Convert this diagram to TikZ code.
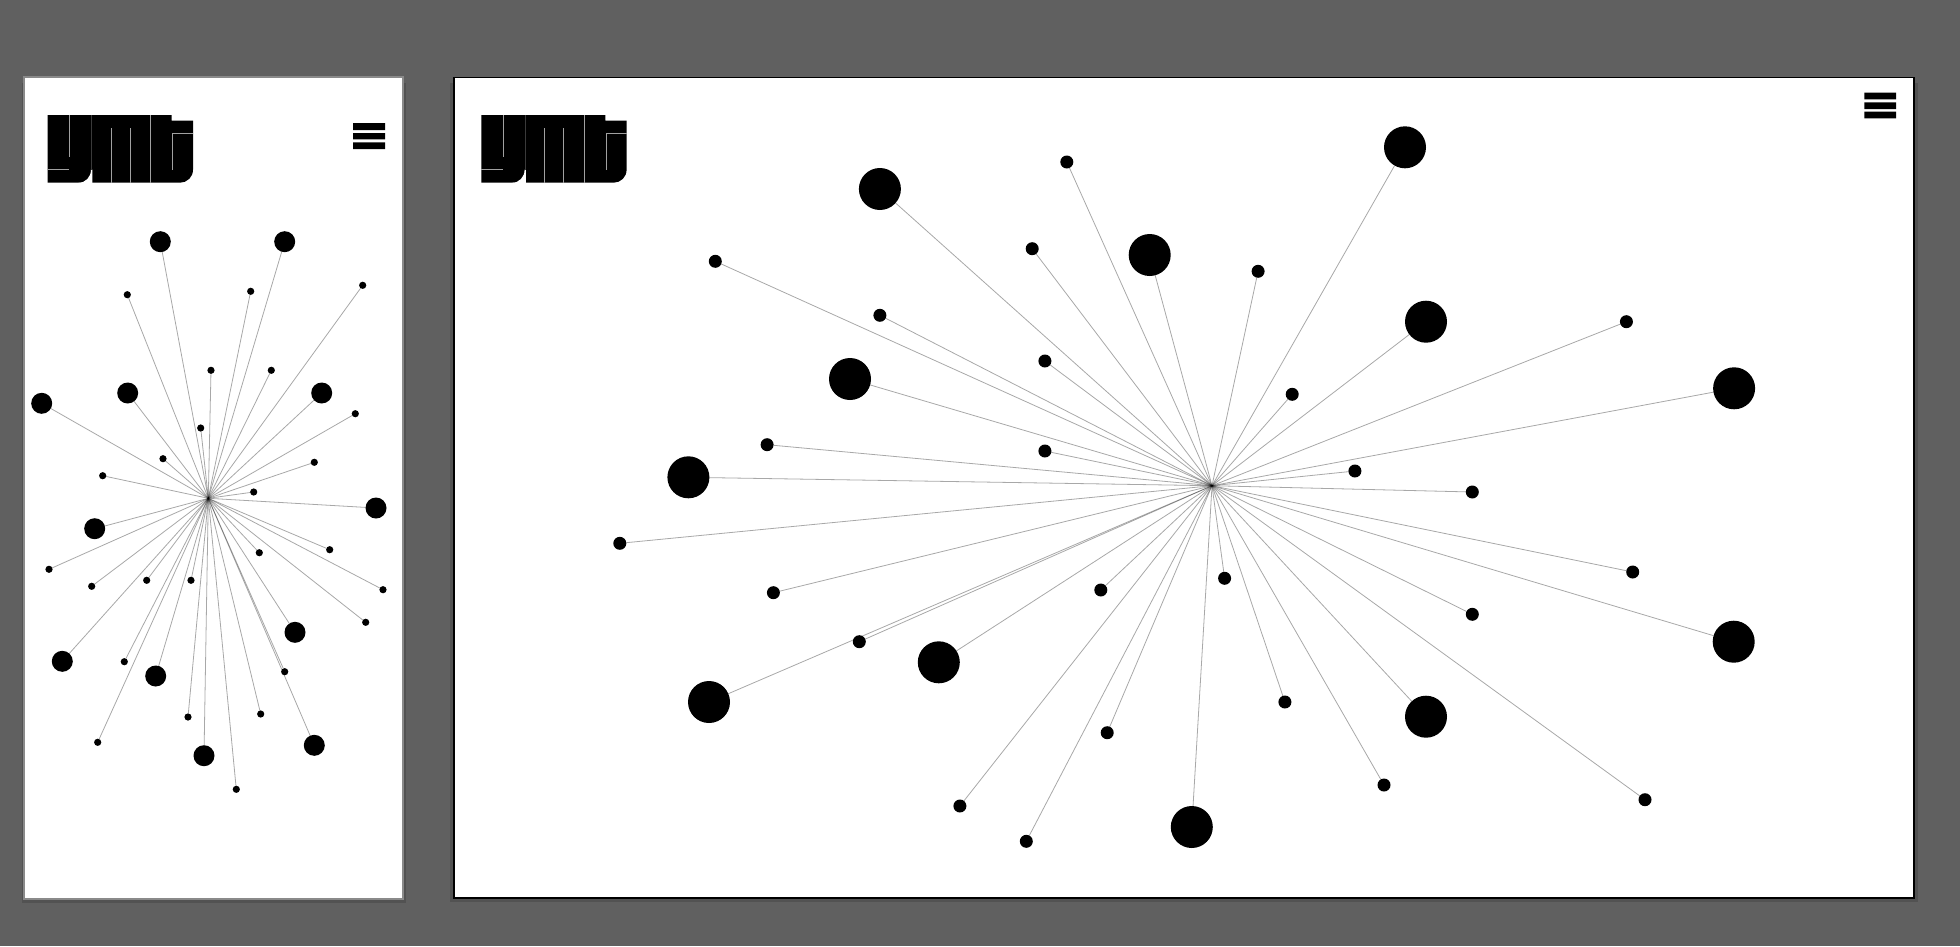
\documentclass[tikz,border=0pt]{standalone}
\definecolor{bgcol}{HTML}{606060}
\definecolor{shadowcol}{HTML}{525252}
\definecolor{edgegrey}{HTML}{8A8A8A}
\definecolor{slitcol}{HTML}{A0A0A0}
\tikzset{
  bigL/.style={circle,fill=black,inner sep=0pt,outer sep=0pt,minimum size=21pt},
  smallL/.style={circle,fill=black,inner sep=0pt,outer sep=0pt,minimum size=7.2pt},
  bigR/.style={circle,fill=black,inner sep=0pt,outer sep=0pt,minimum size=42pt},
  smallR/.style={circle,fill=black,inner sep=0pt,outer sep=0pt,minimum size=13pt},
  spoke/.style={draw=black,draw opacity=0.34,line width=0.8pt},
  ymtlogo/.pic={
    \fill[black] (0,0) -- (124,0) -- (124,5.7) -- (145.3,5.7) -- (145.3,54.7)
      .. controls (145.3,62) and (139.5,67.7) .. (132.3,67.7) -- (0,67.7) -- cycle;
    \fill[white] (30.6,67.9) .. controls (38,67.7) and (43.3,62) .. (43.3,54.7)
      -- (44.6,54.7) -- (44.6,67.9) -- cycle;
    \draw[slitcol,line width=0.8pt]
      (21.6,0) -- (21.6,42.3)
      (0,54) -- (21.6,54)
      (63.3,13) -- (63.3,67.7)
      (82.3,13) -- (82.3,67.7)
      (102.6,0) -- (102.6,67.7)
      (124.6,18) -- (124.6,54.7)
      (124.6,18) -- (145.3,18);
    \draw[bgcol!60!black,line width=0.3pt] (43.9,0) -- (43.9,54.7);
  }
}
\begin{document}
\begin{tikzpicture}[x=1pt,y=-1pt]
\useasboundingbox (0,0) rectangle (1960,946);
\fill[bgcol] (0,0) rectangle (1960,946);
% mobile panel
\fill[shadowcol] (21.5,83) rectangle (406,903);
\fill[edgegrey] (23.3,76) rectangle (404,900);
\fill[white] (25,77.7) rectangle (402.3,898.3);
% desktop panel
\fill[shadowcol] (450,83) rectangle (1918,902);
\fill[black] (453.3,76.7) rectangle (1914.5,898.5);
\fill[white] (455,78.4) rectangle (1913,897);
% logos
\pic at (47.7,115) {ymtlogo};
\pic at (481.3,115) {ymtlogo};
% menu icons
\fill[black] (353,123) rectangle (385,130) (353,133) rectangle (385,139.3) (353,142.3) rectangle (385,149);
\fill[black] (1864.3,92.7) rectangle (1896,99.3) (1864.3,102.3) rectangle (1896,109) (1864.3,111.7) rectangle (1896,118.3);
% mobile graph
\coordinate (hubL) at (208.3,498.3);
\foreach \n/\x/\y in {
 a1/160.3/241.7,a2/284.7/241.7,a3/41.7/403.3,a4/127.7/393,a5/321.7/393,a6/376/508,
 a7/94.7/528.7,a8/62.3/661.3,a9/155.7/676,a10/204/755.7,a11/314.3/745.3,a12/295/632.3}
 {\node[bigL] (\n) at (\x,\y) {}; \draw[spoke] (hubL) -- (\n);}
\foreach \n/\x/\y in {
 b1/127.3/294.7,b2/250.7/291.3,b3/362.7/285.3,b4/211/370.3,b5/271.3/370.3,b6/355.3/413.7,
 b7/200.7/428,b8/163/458.7,b9/314.3/462.3,b10/102.7/475.7,b11/253.7/492,b12/329.7/549.7,
 b13/259.3/552.7,b14/49/569.3,b15/91.7/586.3,b16/146.7/580.3,b17/191/580.3,b18/383/589.7,
 b19/365.7/622.3,b20/124.3/661.7,b21/284.7/671.7,b22/188/717,b23/260.7/714,b24/97.7/742.3,
 b25/236.3/789.3}
 {\node[smallL] (\n) at (\x,\y) {}; \draw[spoke] (hubL) -- (\n);}
% desktop graph
\coordinate (hubR) at (1212,485.7);
\foreach \n/\x/\y in {
 c1/879.9/189,c2/1149.7/255,c3/850/379,c4/688.4/477.3,c5/1405/147.3,c6/1426/321.7,
 c7/1734.1/388.3,c8/709/702,c9/938.8/662.3,c10/1191.8/827,c11/1733.7/641.7,c12/1426/716.7}
 {\node[bigR] (\n) at (\x,\y) {}; \draw[spoke] (hubR) -- (\n);}
\foreach \n/\x/\y in {
 d1/1066.8/162,d2/1032.2/248.7,d3/715.3/261.3,d4/879.9/315.3,d5/1044.9/361,d6/767.1/444.7,
 d7/1044.9/451,d8/1258.1/271.3,d9/1292.2/394.3,d10/1626.4/321.7,d11/1354.9/471,d12/1472.3/492,
 d13/619.8/543.3,d14/773.4/592.7,d15/859.3/641.7,d16/1100.8/590,d17/1224.6/578.3,d18/1107.2/732.7,
 d19/959.9/806,d20/1026.3/841.3,d21/1632.7/572,d22/1472.3/614.3,d23/1284.9/702,d24/1384/785,
 d25/1645/799.7}
 {\node[smallR] (\n) at (\x,\y) {}; \draw[spoke] (hubR) -- (\n);}
\end{tikzpicture}
\end{document}
